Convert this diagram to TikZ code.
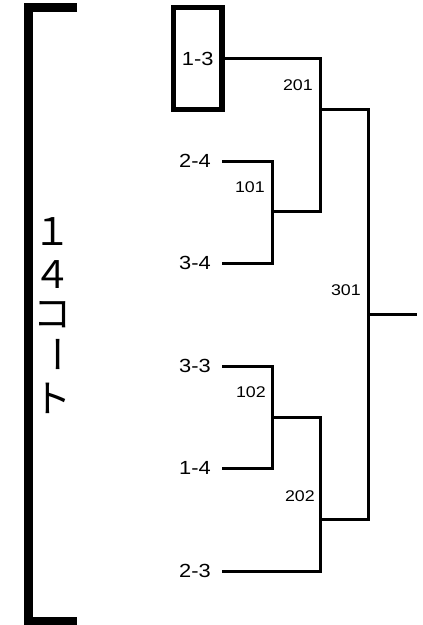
\documentclass[tikz,border=0pt]{standalone}
\usepackage{fontspec}
\setmainfont{Liberation Sans}[FakeStretch=1.15]
\newfontfamily\jpfont{Noto Sans CJK JP}
\begin{document}
\begin{tikzpicture}[x=1pt,y=-1pt,
  team/.style={font=\fontsize{19}{19}\selectfont, inner xsep=11pt, inner ysep=0pt, anchor=east},
  mlabel/.style={font=\fontsize{15.5}{15.5}\selectfont, inner sep=0pt, anchor=east},
  conn/.style={line width=3pt},
  vchar/.style={font=\jpfont\fontsize{38}{38}\selectfont, inner sep=0pt}]
\useasboundingbox (0,0) rectangle (423,625);
% bracket
\draw[line width=8.5pt] (77,7.5) -- (28.5,7.5) -- (28.5,621.5) -- (77,621.5);
% vertical court name
\node[vchar] (c1) at (52,232) {１};
\node[vchar] (c2) at (52,275) {４};
\node[vchar] (c3) at (52,315) {コ};
\node[vchar, rotate=-90] (c4) at (52,354) {ー};
\node[vchar] (c5) at (52,398) {ト};
% teams
\node[team, anchor=center, draw, line width=5.5pt, minimum width=48.5pt, minimum height=102pt, inner xsep=0pt] (t13) at (197.75,58.5) {1-3};
\node[team] (t24) at (222,161) {2-4};
\node[team] (t34) at (222,263) {3-4};
\node[team] (t33) at (222,366) {3-3};
\node[team] (t14) at (222,468) {1-4};
\node[team] (t23) at (222,571) {2-3};
% junctions
\coordinate (j101) at (272,211);
\coordinate (j102) at (272,417);
\coordinate (j201) at (320,109);
\coordinate (j202) at (320,519);
\coordinate (j301) at (368,314);
\coordinate (out) at (417,314);
% connectors
\draw[conn] (t24.east) -| (j101) |- (t34.east);
\draw[conn] (t33.east) -| (j102) |- (t14.east);
\draw[conn] (t13.east) -| (j201) |- (j101);
\draw[conn] (j102) -| (j202) |- (t23.east);
\draw[conn] (j201) -| (j301) |- (j202);
\draw[conn] (j301) -- (out);
% match labels
\node[mlabel] (m101) at (265,187) {101};
\node[mlabel] (m102) at (266,392) {102};
\node[mlabel] (m201) at (313,85) {201};
\node[mlabel] (m202) at (315,496) {202};
\node[mlabel] (m301) at (361,290) {301};
\end{tikzpicture}
\end{document}
